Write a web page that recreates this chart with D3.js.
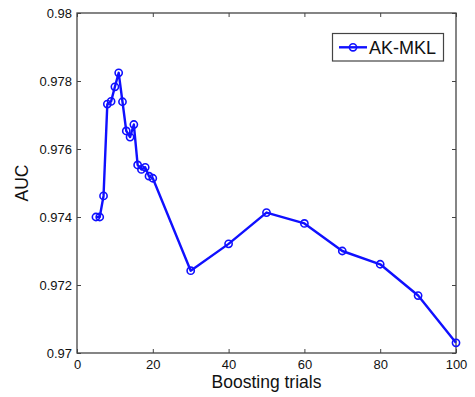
<!DOCTYPE html>
<html><head><meta charset="utf-8">
<script src="https://cdn.jsdelivr.net/npm/d3@7"></script>
<style>body{margin:0;background:#fff;} text{font-family:"Liberation Sans",Arial,sans-serif;}</style>
</head><body>
<svg id="c" width="475" height="397"></svg>
<script>
const trials = [5,6,7,8,9,10,11,12,13,14,15,16,17,18,19,20,30,40,50,60,70,80,90,100];
const auc = [0.9740,0.9740,0.97462,0.97732,0.9774,0.97783,0.97824,0.97739,0.97653,0.97635,0.97672,0.97553,0.9754,0.97546,0.9752,0.97514,0.97242,0.97321,0.97413,0.97381,0.97300,0.97261,0.97169,0.97030];
const xTicks = [0,20,40,60,80,100];
const yTicks = [0.97,0.972,0.974,0.976,0.978,0.98];
const seriesName = "AK-MKL";

const svg = d3.select("#c");
const L=77, R=456, T=13, B=353;
const x = d3.scaleLinear().domain([0,100]).range([L,R]);
const y = d3.scaleLinear().domain([0.97,0.98]).range([B,T]);
const axisCol = "#444";

svg.append("rect").attr("x",L).attr("y",T).attr("width",R-L).attr("height",B-T)
  .attr("fill","#fff").attr("stroke",axisCol).attr("stroke-width",1.3);

const fmtY = d => d3.format("")(+d.toFixed(3));
const gx = svg.append("g").attr("transform",`translate(0,${B})`)
  .call(d3.axisBottom(x).tickValues(xTicks).tickSize(-4).tickPadding(7).tickFormat(d3.format("d")));
const gxt = svg.append("g").attr("transform",`translate(0,${T})`)
  .call(d3.axisTop(x).tickValues(xTicks).tickSize(-4).tickFormat(""));
const gy = svg.append("g").attr("transform",`translate(${L},0)`)
  .call(d3.axisLeft(y).tickValues(yTicks).tickSize(-4).tickPadding(5).tickFormat(fmtY));
const gyr = svg.append("g").attr("transform",`translate(${R},0)`)
  .call(d3.axisRight(y).tickValues(yTicks).tickSize(-4).tickFormat(""));
[gx,gxt,gy,gyr].forEach(g=>{
  g.select(".domain").remove();
  g.selectAll("line").attr("stroke",axisCol);
  g.selectAll("text").attr("font-size",13).attr("fill","#111").attr("font-family","Liberation Sans, Arial, sans-serif");
});
gy.selectAll("text").attr("dy","0.32em");
gx.selectAll("text").attr("dy","0.71em");

svg.append("text").attr("x",266.5).attr("y",388).attr("text-anchor","middle")
  .attr("font-size",17.5).attr("fill","#111").text("Boosting trials");
svg.append("text").attr("transform",`translate(28,${(T+B)/2}) rotate(-90)`).attr("text-anchor","middle")
  .attr("font-size",17.5).attr("fill","#111").text("AUC");

const col = "#1010ff";
const data = trials.map((t,i)=>({t, v:auc[i]}));
svg.append("path").datum(data)
  .attr("d", d3.line().x(d=>x(d.t)).y(d=>y(d.v)))
  .attr("fill","none").attr("stroke",col).attr("stroke-width",2.4).attr("stroke-linejoin","round");
svg.selectAll("circle.m").data(data).enter().append("circle").attr("class","m")
  .attr("cx",d=>x(d.t)).attr("cy",d=>y(d.v)).attr("r",3.6)
  .attr("fill","none").attr("stroke",col).attr("stroke-width",1.6);

const lg = svg.append("g");
lg.append("rect").attr("x",332.5).attr("y",33.5).attr("width",111).attr("height",27.5)
  .attr("fill","#fff").attr("stroke",axisCol).attr("stroke-width",1.2);
lg.append("line").attr("x1",339).attr("x2",367).attr("y1",47.3).attr("y2",47.3)
  .attr("stroke",col).attr("stroke-width",2.4);
lg.append("circle").attr("cx",353).attr("cy",47.3).attr("r",3.6).attr("fill","none")
  .attr("stroke",col).attr("stroke-width",1.6);
lg.append("text").attr("x",369).attr("y",54).attr("font-size",18).attr("fill","#111").text(seriesName);
</script>
</body></html>
